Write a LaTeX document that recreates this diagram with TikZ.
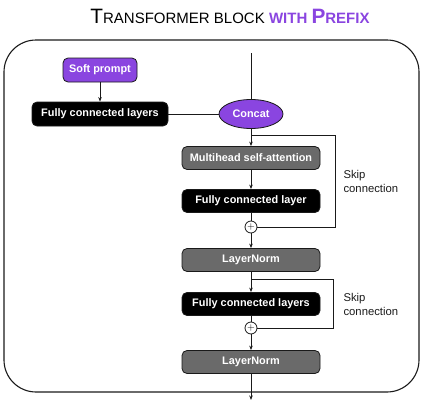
\documentclass[tikz,border=0pt]{standalone}
\usepackage{fontspec}
\setmainfont{Liberation Sans}
\usetikzlibrary{arrows.meta,shapes.geometric}
\definecolor{INK}{HTML}{1A1A1A}
\definecolor{PURPLE}{HTML}{8A45E0}
\definecolor{GREY}{HTML}{6A6A6A}

\begin{document}
\begin{tikzpicture}[x=1pt,y=-1pt]
\tikzset{blk/.style={draw=INK,line width=0.8pt,rounded corners=5pt,minimum width=138pt,minimum height=23pt,inner sep=0pt,
   text=white,font=\fontsize{10.9}{12}\selectfont\bfseries},
 dark/.style={blk,fill=black},grey/.style={blk,fill=GREY},pblk/.style={blk,fill=PURPLE},
 ln/.style={line width=0.8pt,INK},arr/.style={ln,-{Stealth[length=4.5pt,width=3.5pt]}},
 plus/.style={circle,draw=INK,line width=0.8pt,fill=white,minimum size=12pt,inner sep=0pt,font=\fontsize{10}{10}\selectfont},
 lbl/.style={anchor=west,align=left,font=\fontsize{11.3}{14}\selectfont,INK}}
\useasboundingbox (0,0) rectangle (429,410);
% title
\node (title) at (230,16) {{\fontsize{20.8}{23}\selectfont T}{\fontsize{15}{17}\selectfont RANSFORMER BLOCK }\textcolor{PURPLE}{\bfseries\fontsize{15}{17}\selectfont WITH {\fontsize{20.8}{23}\selectfont P}REFIX}};
% frame
\draw[line width=1.1pt,INK,rounded corners=32pt] (4,40) rectangle (419,392);
% prefix branch
\node[pblk,minimum width=74pt,minimum height=24pt] (soft) at (100,70) {Soft prompt};
\node[dark,minimum width=136pt,minimum height=24pt] (fcp) at (100,114) {Fully connected layers};
\node[ellipse,draw=INK,line width=0.8pt,fill=PURPLE,minimum width=64pt,minimum height=29pt,inner sep=0pt,
   text=white,font=\fontsize{10.9}{12}\selectfont\bfseries] (concat) at (251,114) {Concat};
% main stack
\node[grey] (mhsa) at (251,158) {Multihead self-attention};
\node[dark] (fc1) at (251,201) {Fully connected layer};
\node[plus] (add1) at (251,227) {$+$};
\node[grey] (norm1) at (251,260) {LayerNorm};
\node[dark] (fc2) at (251,304) {Fully connected layers};
\node[plus] (add2) at (251,328) {$+$};
\node[grey] (norm2) at (251,362) {LayerNorm};
\coordinate (in) at (251,53);
\coordinate (out) at (251,400);
\coordinate (s1) at (251,135);
\coordinate (s2) at (251,279);
% connectors
\draw[ln] (in) -- (concat);
\draw[arr] (soft) -- (fcp);
\draw[ln] (fcp) -- (concat);
\draw[arr] (concat) -- (mhsa);
\draw[arr] (mhsa) -- (fc1);
\draw[ln] (fc1) -- (add1);
\draw[arr] (add1) -- (norm1);
\draw[arr] (norm1) -- (fc2);
\draw[ln] (fc2) -- (add2);
\draw[arr] (add2) -- (norm2);
\draw[arr] (norm2) -- (out);
\draw[ln] (s1) -| (335,227) -- (add1);
\draw[ln] (s2) -| (333,328) -- (add2);
\node[lbl] (skip1) at (340,181) {Skip\\connection};
\node[lbl] (skip2) at (340,304) {Skip\\connection};
\end{tikzpicture}
\end{document}
